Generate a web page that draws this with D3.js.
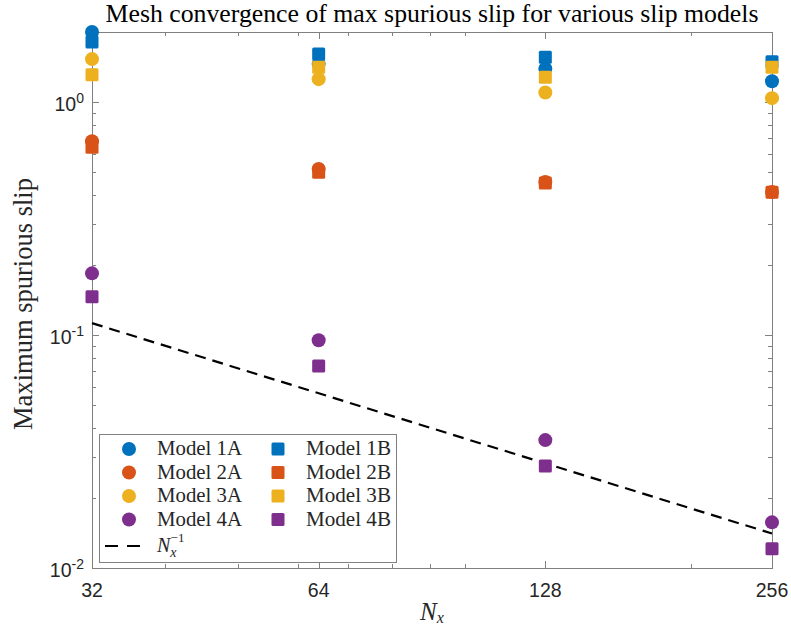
<!DOCTYPE html>
<html>
<head>
<meta charset="utf-8">
<script src="https://cdn.jsdelivr.net/npm/d3@7"></script>
<style>
  html, body { margin: 0; padding: 0; background: #fff; }
  svg { display: block; }
</style>
</head>
<body>
<svg id="chart" width="791" height="630"></svg>
<script>
// Mesh sizes and the maximum spurious slip measured for each slip model
const meshSizes = [32, 64, 128, 256];
const model1A = [2.00, 1.46, 1.39, 1.23];
const model1B = [1.81, 1.61, 1.56, 1.49];
const model2A = [0.68, 0.516, 0.454, 0.411];
const model2B = [0.64, 0.50, 0.45, 0.41];
const model3A = [1.53, 1.255, 1.10, 1.04];
const model3B = [1.31, 1.41, 1.28, 1.41];
const model4A = [0.184, 0.095, 0.0354, 0.0157];
const model4B = [0.146, 0.0736, 0.0274, 0.0121];
// Reference slope: C / Nx
const refCoeff = 3.6;
const xTickValues = [32, 64, 128, 256];
const xTickLabels = ["32", "64", "128", "256"];
const yTickValues = [0.01, 0.1, 1];
const yTickExponents = ["-2", "-1", "0"];

const series = [
  { name: "Model 1A", values: model1A, color: "#0072BD", shape: "circle" },
  { name: "Model 2A", values: model2A, color: "#D95319", shape: "circle" },
  { name: "Model 3A", values: model3A, color: "#EDB120", shape: "circle" },
  { name: "Model 4A", values: model4A, color: "#7E2F8E", shape: "circle" },
  { name: "Model 1B", values: model1B, color: "#0072BD", shape: "square" },
  { name: "Model 2B", values: model2B, color: "#D95319", shape: "square" },
  { name: "Model 3B", values: model3B, color: "#EDB120", shape: "square" },
  { name: "Model 4B", values: model4B, color: "#7E2F8E", shape: "square" }
];
// drawing order: A/B pairs interleaved per model
const drawOrder = [0, 4, 1, 5, 2, 6, 3, 7];

const W = 791, H = 630;
const margin = { left: 92, right: 19, top: 32, bottom: 62 };
const x0 = margin.left, x1 = W - margin.right;
const y0 = H - margin.bottom, y1 = margin.top;

const svg = d3.select("#chart");
const axisColor = "#808080";
const textColor = "#262626";
const serif = "'Liberation Serif', 'Times New Roman', serif";
const sans = "'Liberation Sans', Arial, Helvetica, sans-serif";

const x = d3.scaleLog().base(2).domain([32, 256]).range([x0, x1]);
const y = d3.scaleLog().domain([0.01, 2]).range([y0, y1]);

// fit a text element to a target width by adjusting font-size
function fitWidth(sel, target) {
  const node = sel.node();
  const fs = parseFloat(sel.attr("font-size"));
  const w = node.getComputedTextLength();
  if (w > 0) sel.attr("font-size", (fs * target / w).toFixed(2));
}

// ---- ticks (inward, on all four sides) ----
const xMinor = [40, 50, 60, 70, 80, 90, 100, 200];
const yMinor = [];
[0.01, 0.1, 1].forEach(d => { for (let k = 2; k <= 9; k++) { const v = d * k; if (v <= 2.0001) yMinor.push(v); } });

const majorLen = 7, minorLen = 4;
const tickG = svg.append("g").attr("stroke", axisColor).attr("stroke-width", 1);
function vTicks(vals, len) {
  vals.forEach(v => {
    const px = Math.round(x(v)) + 0.5;
    tickG.append("line").attr("x1", px).attr("x2", px).attr("y1", y0).attr("y2", y0 - len);
    tickG.append("line").attr("x1", px).attr("x2", px).attr("y1", y1).attr("y2", y1 + len);
  });
}
function hTicks(vals, len) {
  vals.forEach(v => {
    const py = Math.round(y(v)) + 0.5;
    tickG.append("line").attr("x1", x0).attr("x2", x0 + len).attr("y1", py).attr("y2", py);
    tickG.append("line").attr("x1", x1).attr("x2", x1 - len).attr("y1", py).attr("y2", py);
  });
}
vTicks(xTickValues, majorLen);
vTicks(xMinor, minorLen);
hTicks(yTickValues, majorLen);
hTicks(yMinor, minorLen);

// ---- axis box ----
svg.append("rect")
  .attr("x", x0 + 0.5).attr("y", y1 + 0.5)
  .attr("width", x1 - x0).attr("height", y0 - y1)
  .attr("fill", "none").attr("stroke", axisColor).attr("stroke-width", 1);

// ---- tick labels ----
const xLab = svg.append("g").attr("font-family", sans).attr("font-size", 19.5).attr("fill", textColor);
xTickValues.forEach((v, i) => {
  xLab.append("text").attr("x", x(v)).attr("y", y0 + 29)
    .attr("text-anchor", "middle").text(xTickLabels[i]);
});
const yLab = svg.append("g").attr("font-family", sans).attr("font-size", 19.5).attr("fill", textColor);
yTickValues.forEach((v, i) => {
  const t = yLab.append("text").attr("x", x0 - 8).attr("y", y(v) + 9).attr("text-anchor", "end");
  t.append("tspan").text("10");
  t.append("tspan").attr("dy", -8).attr("font-size", 14).text(yTickExponents[i]);
});

// ---- reference line C/Nx ----
const refData = [32, 256].map(n => ({ n, v: refCoeff / n }));
svg.append("path")
  .datum(refData)
  .attr("fill", "none").attr("stroke", "#000").attr("stroke-width", 2.2)
  .attr("stroke-dasharray", "11,7")
  .attr("d", d3.line().x(d => x(d.n)).y(d => y(d.v)));

// ---- markers ----
const circR = 7, sqHalf = 6.5;
function drawMarker(g, shape, cx, cy, color) {
  if (shape === "circle") {
    g.append("circle").attr("cx", cx).attr("cy", cy).attr("r", circR).attr("fill", color);
  } else {
    g.append("rect").attr("x", cx - sqHalf).attr("y", cy - sqHalf)
      .attr("width", 2 * sqHalf).attr("height", 2 * sqHalf).attr("rx", 1.5).attr("fill", color);
  }
}
const markG = svg.append("g");
drawOrder.forEach(si => {
  const s = series[si];
  s.values.forEach((v, i) => drawMarker(markG, s.shape, x(meshSizes[i]), y(v), s.color));
});

// ---- title ----
const title = svg.append("text")
  .attr("x", (x0 + x1) / 2).attr("y", 22)
  .attr("text-anchor", "middle").attr("font-family", serif).attr("font-size", 20)
  .attr("fill", "#000")
  .text("Mesh convergence of max spurious slip for various slip models");
fitWidth(title, 653);

// ---- axis labels ----
const yTitle = svg.append("text")
  .attr("transform", `translate(32, ${(y0 + y1) / 2 + 4}) rotate(-90)`)
  .attr("text-anchor", "middle").attr("font-family", serif).attr("font-size", 20)
  .attr("fill", textColor).text("Maximum spurious slip");
fitWidth(yTitle, 252);

const xTitle = svg.append("text")
  .attr("x", (x0 + x1) / 2).attr("y", 620)
  .attr("text-anchor", "middle").attr("font-family", serif).attr("font-size", 25)
  .attr("fill", textColor);
xTitle.append("tspan").attr("font-style", "italic").text("N");
xTitle.append("tspan").attr("font-style", "italic").attr("font-size", 16).attr("dy", 3).text("x");

// ---- legend ----
const lg = svg.append("g");
const lgX = 99.5, lgY = 434.5, lgW = 297, lgH = 128;
lg.append("rect").attr("x", lgX).attr("y", lgY).attr("width", lgW).attr("height", lgH)
  .attr("fill", "#fff").attr("stroke", axisColor).attr("stroke-width", 1);
const rowY = [449, 472.5, 496, 519.5];
const col = [{ mx: 129, tx: 157 }, { mx: 278, tx: 306 }];
series.forEach((s, i) => {
  const c = col[i < 4 ? 0 : 1];
  const ry = rowY[i % 4];
  drawMarker(lg, s.shape, c.mx, ry, s.color);
  const t = lg.append("text").attr("x", c.tx).attr("y", ry + 6)
    .attr("font-family", serif).attr("font-size", 18).attr("fill", textColor).text(s.name);
  fitWidth(t, 85);
});
// reference line entry
lg.append("line").attr("x1", 105).attr("x2", 145).attr("y1", 546).attr("y2", 546)
  .attr("stroke", "#000").attr("stroke-width", 2.2).attr("stroke-dasharray", "13,9");
const rt = lg.append("text").attr("x", 157).attr("y", 552)
  .attr("font-family", serif).attr("font-size", 20).attr("fill", textColor);
rt.append("tspan").attr("font-style", "italic").text("N");
rt.append("tspan").attr("font-style", "italic").attr("font-size", 14).attr("dy", 5).text("x");
rt.append("tspan").attr("font-size", 13).attr("dy", -15).attr("dx", -6).text("\u22121");
</script>
</body>
</html>
